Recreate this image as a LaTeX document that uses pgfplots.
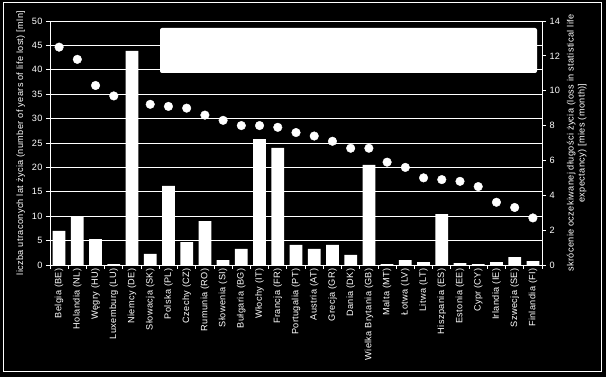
\documentclass[border=0pt]{standalone}
\usepackage{pgfplots}
\pgfplotsset{compat=1.18}
\usepackage{fontspec}
\setmainfont{Liberation Sans}[LetterSpace=4]
\begin{document}
\begin{tikzpicture}[font=\fontsize{9.2}{11}\selectfont]
\fill[black] (0,0) rectangle (606bp,377bp);
\draw[white, line width=1bp] (3bp,5bp) rectangle (601bp,374bp);
\pgfplotsset{mystyle/.style={
  scale only axis, width=492bp, height=244bp,
  at={(50bp,112bp)}, anchor=south west,
  xmin=-0.5, xmax=26.5,
  axis line style={white, line width=0.8bp},
  tick style={white, line width=0.8bp},
  tick label style={white, font=\fontsize{9.2}{11}\selectfont},
  label style={white, font=\fontsize{9.2}{11}\selectfont},
  /pgf/number format/assume math mode=true,
  tick align=outside, major tick length=4bp,
}}
\begin{axis}[mystyle,
  axis x line*=bottom, axis y line*=left,
  ymin=0, ymax=50, ytick={0,5,...,50},
  ymajorgrids, grid style={white, line width=0.8bp},
  xtick={-0.5,0.5,...,26.5}, xticklabels={},
  extra x ticks={0,1,...,26},
  extra x tick labels={Belgia (BE),Holandia (NL),Węgry (HU),Luxemburg (LU),Niemcy (DE),Słowacja (SK),Polska (PL),Czechy (CZ),Rumunia (RO),Słowenia (SI),Bułgaria (BG),Włochy (IT),Francja (FR),Portugalia (PT),Austria (AT),Grecja (GR),Dania (DK),Wielka Brytania (GB),Malta (MT),Łotwa (LV),Litwa (LT),Hiszpania (ES),Estonia (EE),Cypr (CY),Irlandia (IE),Szwecja (SE),Finlandia (FI)},
  extra x tick style={major tick length=0pt, xmajorgrids=false},
  xticklabel style={rotate=90, anchor=east},
  ylabel={liczba utraconych lat życia (number of years of life lost) [mln]},
  ybar, bar width=0.7,
]
\addplot[fill=white, draw=none] coordinates {
(0,7.0) (1,9.9) (2,5.3) (3,0.2) (4,43.9) (5,2.3) (6,16.2) (7,4.7) (8,9.0)
(9,1.0) (10,3.3) (11,25.8) (12,24.0) (13,4.1) (14,3.3) (15,4.1) (16,2.05)
(17,20.5) (18,0.2) (19,1.0) (20,0.6) (21,10.45) (22,0.4) (23,0.2) (24,0.6)
(25,1.6) (26,0.8)};
\end{axis}
\begin{axis}[mystyle,
  axis x line=none, axis y line*=right,
  ymin=0, ymax=14, ytick={0,2,...,14},
  ylabel={skrócenie oczekiwanej długości życia (loss in statistical life\\expectancy) [mies (month)]},
  ylabel style={align=center},
]
\addplot[only marks, mark=*, mark size=4.3bp, white] coordinates {
(0,12.5) (1,11.8) (2,10.3) (3,9.7) (4,9.45) (5,9.22) (6,9.1) (7,9.0) (8,8.6)
(9,8.3) (10,8.0) (11,8.0) (12,7.9) (13,7.6) (14,7.4) (15,7.1) (16,6.7)
(17,6.7) (18,5.9) (19,5.6) (20,5.0) (21,4.9) (22,4.8) (23,4.5) (24,3.6)
(25,3.3) (26,2.7)};
\end{axis}
\fill[white, rounded corners=2bp] (160bp,304bp) rectangle (537bp,349bp);
\end{tikzpicture}
\end{document}
